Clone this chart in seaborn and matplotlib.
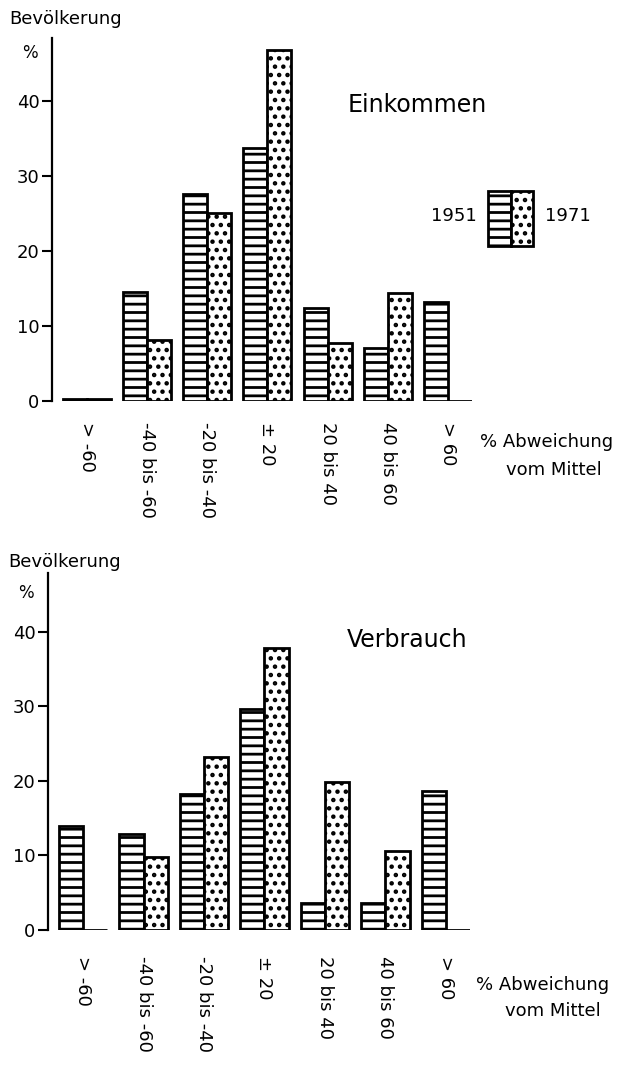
import numpy as np
import pandas as pd
import matplotlib.pyplot as plt
import matplotlib.patches as mpatches
import seaborn as sns

# Data (% of population per deviation class)
categories = ['> -60', '-40 bis -60', '-20 bis -40', '± 20', '20 bis 40', '40 bis 60', '> 60']
years = ['1951', '1971']

einkommen_1951 = [0.3, 14.5, 27.6, 33.7, 12.4, 7.1, 13.2]
einkommen_1971 = [0.3, 8.2, 25.1, 46.8, 7.8, 14.4, 0.0]

verbrauch_1951 = [13.9, 12.9, 18.2, 29.6, 3.6, 3.6, 18.7]
verbrauch_1971 = [0.0, 9.8, 23.2, 37.8, 19.9, 10.6, 0.0]

hatches = ['--', '..']

sns.set_style('white')
plt.rcParams['hatch.linewidth'] = 2.0
plt.rcParams['font.family'] = ['DejaVu Sans']
plt.rcParams['text.color'] = 'black'
plt.rcParams['xtick.color'] = 'black'
plt.rcParams['ytick.color'] = 'black'

W, H = 621, 1065
fig = plt.figure(figsize=(W / 100, H / 100), dpi=100)


def px(x, y):
    # pixel position (from top left) -> figure fraction
    return x / W, 1 - y / H


def draw_panel(rect, v1951, v1971, ymax, xpad):
    ax = fig.add_axes(rect)
    df = pd.DataFrame({
        'cat': categories * 2,
        'val': v1951 + v1971,
        'year': [years[0]] * 7 + [years[1]] * 7,
    })
    sns.barplot(data=df, x='cat', y='val', hue='year', palette=['white', 'white'],
                edgecolor='black', linewidth=2, width=0.8, legend=False, ax=ax)
    for cont, h in zip(ax.containers, hatches):
        for bar in cont:
            bar.set_hatch(h)
    ax.set_xlim(-0.58, 6.4)
    ax.set_ylim(0, ymax)
    ax.set_xlabel('')
    ax.set_ylabel('')
    ax.set_yticks([0, 10, 20, 30, 40])
    ax.set_xticks(range(len(categories)))
    ax.set_xticklabels(categories, rotation=-90, va='top', ha='center', fontsize=13, color='black')
    ax.tick_params(axis='x', length=0, pad=xpad)
    ax.tick_params(axis='y', left=True, length=7, width=1.5, labelsize=13, pad=2, colors='black')
    for s in ['top', 'right', 'bottom']:
        ax.spines[s].set_visible(False)
    ax.spines['left'].set_linewidth(1.6)
    ax.spines['left'].set_color('black')
    ax.patch.set_alpha(0)
    return ax


# Einkommen (top)
ax1 = draw_panel([52 / W, 1 - 401 / H, 420 / W, 363 / H],
                 einkommen_1951, einkommen_1971, 48.4, 15)
# Verbrauch (bottom)
ax2 = draw_panel([48 / W, 1 - 930 / H, 422 / W, 357 / H],
                 verbrauch_1951, verbrauch_1971, 47.9, 19)

# axis captions
fig.text(*px(9, 19), 'Bevölkerung', fontsize=13, ha='left', va='center')
fig.text(*px(22, 53), '%', fontsize=12, ha='left', va='center')
fig.text(*px(8, 562), 'Bevölkerung', fontsize=13, ha='left', va='center')
fig.text(*px(18, 593), '%', fontsize=12, ha='left', va='center')

fig.text(*px(480, 442), '% Abweichung', fontsize=13, ha='left', va='center')
fig.text(*px(506, 470), 'vom Mittel', fontsize=13, ha='left', va='center')
fig.text(*px(476, 985), '% Abweichung', fontsize=13, ha='left', va='center')
fig.text(*px(505, 1011), 'vom Mittel', fontsize=13, ha='left', va='center')

# panel titles
fig.text(*px(348, 105), 'Einkommen', fontsize=17, ha='left', va='center')
fig.text(*px(347, 640), 'Verbrauch', fontsize=17, ha='left', va='center')

# legend box
lx, ly, lw, lh = 488, 191, 45, 55
for i, h in enumerate(hatches):
    x0, y0 = px(lx + i * lw / 2, ly + lh)
    fig.add_artist(mpatches.Rectangle((x0, y0), (lw / 2) / W, lh / H, transform=fig.transFigure,
                                      facecolor='white', edgecolor='black', linewidth=2, hatch=h))
fig.text(*px(477, 216), '1951', fontsize=13, ha='right', va='center')
fig.text(*px(545, 216), '1971', fontsize=13, ha='left', va='center')

fig.savefig('out.png', dpi=100, facecolor='white')
